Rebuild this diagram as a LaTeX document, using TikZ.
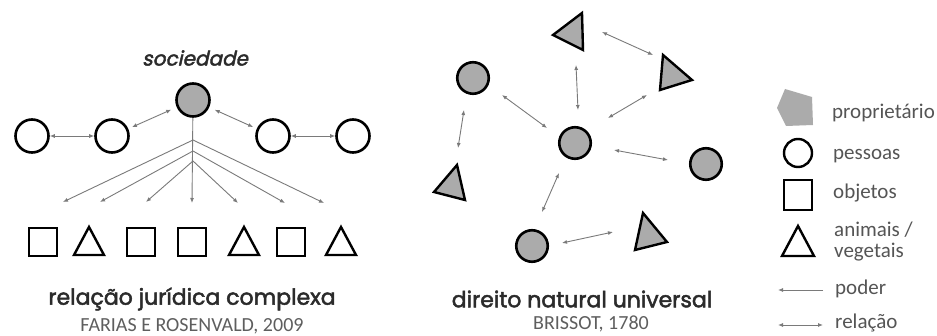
\documentclass[tikz,border=0pt]{standalone}
\usepackage{fontspec}
\setmainfont{Carlito}
\newfontfamily\gothic{Poppins}[FakeBold=2.2]
\newfontfamily\gothicit{Poppins}[FakeSlant=0.22,FakeBold=2.2]
\usetikzlibrary{arrows.meta}
\definecolor{propgray}{HTML}{ABABAB}
\definecolor{arrgray}{HTML}{7A7A7A}
\definecolor{titlegray}{HTML}{2B2B2B}
\definecolor{citegray}{HTML}{5E5E5E}
\definecolor{leggray}{HTML}{555555}
\tikzset{
  pers/.style={circle, draw=black, line width=2.6pt, minimum size=33pt, inner sep=0pt, fill=white},
  prop/.style={pers, fill=propgray, minimum size=31.5pt},
  obj/.style={rectangle, draw=black, line width=2.4pt, minimum width=28pt, minimum height=28pt, inner sep=0pt},
  tri/.style={draw=black, line width=2.4pt, line join=miter},
  ptri/.style={tri, fill=propgray},
  tipp/.tip={Latex[length=5pt,width=4pt]},
  rel/.style={draw=arrgray, line width=0.9pt, tipp-tipp},
  pod/.style={draw=arrgray, line width=0.9pt, -tipp},
  title/.style={font=\gothic\fontsize{22}{24}\selectfont, text=titlegray, inner sep=0pt},
  cite/.style={font=\fontsize{20}{22}\selectfont, text=citegray, inner sep=0pt},
  leg/.style={font=\fontsize{21}{21}\selectfont, text=leggray, inner sep=0pt, anchor=west, align=left}
}
\begin{document}
\begin{tikzpicture}[x=1pt,y=-1pt]
\useasboundingbox (0,0) rectangle (937,336);
\fill[white] (0,0) rectangle (937,336);

% ---------------- left diagram ----------------
\node[font=\gothicit\fontsize{20}{22}\selectfont, text=titlegray, inner sep=0pt] (soc) at (195,58) {sociedade};
\node[prop, minimum size=33pt] (s) at (193,100) {};
\node[pers] (p1) at (32,136) {};
\node[pers] (p2) at (112,136) {};
\node[pers] (p3) at (273,136) {};
\node[pers] (p4) at (353,136) {};
\draw[rel] (p1) -- (p2);
\draw[rel] (p3) -- (p4);
\draw[rel, shorten <=4pt, shorten >=6pt] (p2) -- (s);
\draw[rel, shorten <=6pt, shorten >=4pt] (s) -- (p3);

\node[obj] (o1) at (43,242) {};
\coordinate (t1) at (89,242);
\node[obj] (o2) at (141,242) {};
\node[obj] (o3) at (192,242) {};
\coordinate (t2) at (244,242);
\node[obj] (o4) at (291,242) {};
\coordinate (t3) at (341,242);
\foreach \c in {t1,t2,t3}{
  \draw[tri] ([shift={(-15,13)}]\c) -- ([shift={(15,13)}]\c) -- ([shift={(0,-15)}]\c) -- cycle;
}
\coordinate (b1) at (193,140);
\coordinate (b2) at (193,151);
\coordinate (b3) at (193,161);
\coordinate (e1) at (63,202);
\coordinate (e2) at (100,202);
\coordinate (e3) at (146,202);
\coordinate (e4) at (192,203);
\coordinate (e5) at (238,203);
\coordinate (e6) at (285,203);
\coordinate (e7) at (324,203);
\draw[pod] (s) -- (e4);
\draw[pod] (b1) -- (e1);
\draw[pod] (b2) -- (e2);
\draw[pod] (b3) -- (e3);
\draw[pod] (b3) -- (e5);
\draw[pod] (b2) -- (e6);
\draw[pod] (b1) -- (e7);

\node[title] (tl) at (192,299) {relação jurídica complexa};
\node[cite] (cl) at (192,326) {FARIAS E ROSENVALD, 2009};

% ---------------- right diagram ----------------
\draw[ptri] (553,35) -- (582,13) -- (583,50) -- cycle;
\draw[ptri] (663,55) -- (692,80) -- (660,90) -- cycle;
\draw[ptri] (457,165) -- (465,200) -- (434,192) -- cycle;
\draw[ptri] (643,213) -- (667,242) -- (635,250) -- cycle;
\node[prop] (c1) at (473,78) {};
\node[prop] (c0) at (575,143) {};
\node[prop] (c2) at (706,164) {};
\node[prop] (c3) at (532,246) {};

\coordinate (a1) at (602,32);  \coordinate (a2) at (653,55);
\coordinate (a3) at (576,65);  \coordinate (a4) at (578,110);
\coordinate (a5) at (647,95);  \coordinate (a6) at (608,118);
\coordinate (a7) at (502,95);  \coordinate (a8) at (547,128);
\coordinate (a9) at (464,110); \coordinate (a10) at (458,148);
\coordinate (a11) at (614,150); \coordinate (a12) at (668,160);
\coordinate (a13) at (559,173); \coordinate (a14) at (542,212);
\coordinate (a15) at (562,243); \coordinate (a16) at (613,232);
\draw[rel] (a1) -- (a2);
\draw[rel] (a3) -- (a4);
\draw[rel] (a5) -- (a6);
\draw[rel] (a7) -- (a8);
\draw[rel] (a9) -- (a10);
\draw[rel] (a11) -- (a12);
\draw[rel] (a13) -- (a14);
\draw[rel] (a15) -- (a16);

\node[title] (tr) at (582,299) {direito natural universal};
\node[cite] (cr) at (591,324) {BRISSOT, 1780};

% ---------------- legend ----------------
\fill[propgray] (785,89) -- (812,97) -- (813,125) -- (786,126) -- (777,108) -- cycle;
\node[leg] (lprop) at (832,113) {proprietário};
\node[pers, minimum size=28pt, line width=2.4pt] (lc) at (798,153) {};
\node[leg] (lpes) at (833,156) {pessoas};
\node[obj, minimum width=28pt, minimum height=30pt] (lo) at (798,195) {};
\node[leg] (lobj) at (833,193) {objetos};
\coordinate (lt) at (798,242);
\draw[tri] ([shift={(-16,14)}]lt) -- ([shift={(16,14)}]lt) -- ([shift={(0,-16)}]lt) -- cycle;
\node[leg] (lani) at (834,242) {animais /\\vegetais};
\coordinate (lp1) at (823,290); \coordinate (lp2) at (778,290);
\draw[pod] (lp1) -- (lp2);
\node[leg] (lpod) at (835,289) {poder};
\coordinate (lr1) at (778,325); \coordinate (lr2) at (823,325);
\draw[rel] (lr1) -- (lr2);
\node[leg] (lrel) at (835,323) {relação};
\end{tikzpicture}
\end{document}
